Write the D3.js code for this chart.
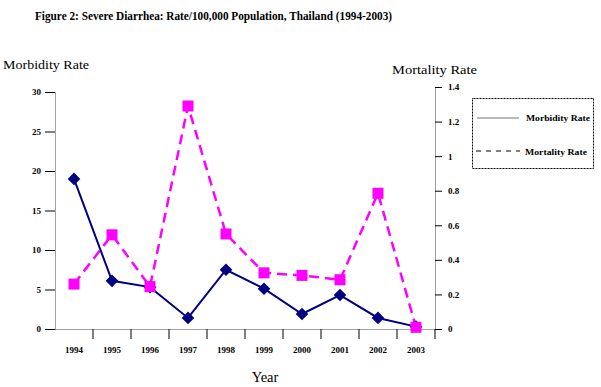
<!DOCTYPE html>
<html><head><meta charset="utf-8">
<script src="https://cdn.jsdelivr.net/npm/d3@7"></script>
<style>body{margin:0;background:#fff}svg{display:block}text{font-family:"Liberation Serif","Times New Roman",serif}</style>
</head><body><svg id="c" width="601" height="387"></svg>
<script>
const years = ["1994","1995","1996","1997","1998","1999","2000","2001","2002","2003"];
const morbidity = [19.0, 6.1, 5.3, 1.4, 7.5, 5.1, 1.9, 4.3, 1.4, 0.3];
const mortality = [0.26, 0.545, 0.245, 1.29, 0.55, 0.325, 0.31, 0.285, 0.785, 0.01];
const leftTicks = [0,5,10,15,20,25,30];
const rightTicks = [0,0.2,0.4,0.6,0.8,1,1.2,1.4];

const svg = d3.select("#c");
const x = d3.scaleBand().domain(years).range([55,435]).padding(0);
const yL = d3.scaleLinear().domain([0,30]).range([329,92]);
const yR = d3.scaleLinear().domain([0,1.4]).range([329,87]);
const cx = d => x(d)+x.bandwidth()/2;

svg.append("text").attr("x",35).attr("y",20).attr("font-size",12.5).attr("font-weight","bold")
  .attr("textLength",357).attr("lengthAdjust","spacingAndGlyphs")
  .text("Figure 2: Severe Diarrhea: Rate/100,000 Population, Thailand (1994-2003)");
svg.append("text").attr("x",3).attr("y",69).attr("font-size",13.5).attr("textLength",86).attr("lengthAdjust","spacingAndGlyphs").text("Morbidity Rate");
svg.append("text").attr("x",392).attr("y",74).attr("font-size",13.5).attr("textLength",85).attr("lengthAdjust","spacingAndGlyphs").text("Mortality Rate");
svg.append("text").attr("x",265).attr("y",382).attr("text-anchor","middle").attr("font-size",14.5).text("Year");

function styleAxis(g){
  g.select(".domain").attr("stroke","#444").attr("stroke-dasharray","1,1");
  g.selectAll(".tick line").attr("stroke","#000");
  g.selectAll(".tick text").attr("font-size",9).attr("font-weight","bold").attr("fill","#000");
}
const gl = svg.append("g").attr("transform","translate(55,0)")
  .call(d3.axisLeft(yL).tickValues(leftTicks).tickSize(10).tickPadding(4).tickSizeOuter(0).tickFormat(d3.format("d")));
styleAxis(gl);
const gr = svg.append("g").attr("transform","translate(435,0)")
  .call(d3.axisRight(yR).tickValues(rightTicks).tickSize(7).tickPadding(6).tickSizeOuter(0).tickFormat(d=>String(d)));
styleAxis(gr);
const gx = svg.append("g").attr("transform","translate(0,329)")
  .call(d3.axisBottom(x).tickSize(0).tickPadding(24).tickSizeOuter(0));
styleAxis(gx);
gx.selectAll(".tick text").attr("dy","0");
// band-boundary ticks
svg.append("g").selectAll("line").data(years.slice(1).concat(["end"])).join("line")
  .attr("x1",(d,i)=> i<9 ? x(d) : 435).attr("x2",(d,i)=> i<9 ? x(d) : 435)
  .attr("y1",329).attr("y2",339).attr("stroke","#000");

const lineM = d3.line().x((d,i)=>cx(years[i])).y(d=>yL(d));
const lineR = d3.line().x((d,i)=>cx(years[i])).y(d=>yR(d));
svg.append("path").attr("d",lineR(mortality)).attr("fill","none").attr("stroke","#ff00ff")
  .attr("stroke-width",2.5).attr("stroke-dasharray","10,6");
svg.append("path").attr("d",lineM(morbidity)).attr("fill","none").attr("stroke","#000080").attr("stroke-width",2);
svg.append("g").selectAll("path").data(morbidity).join("path")
  .attr("d",d3.symbol(d3.symbolSquare,80)()).attr("fill","#000080")
  .attr("transform",(d,i)=>`translate(${cx(years[i])},${yL(d)}) rotate(45)`);
svg.append("g").selectAll("rect").data(mortality).join("rect")
  .attr("x",(d,i)=>cx(years[i])-5.5).attr("y",d=>yR(d)-5.5).attr("width",11).attr("height",11).attr("fill","#ff00ff");

// legend
const lg = svg.append("g");
lg.append("rect").attr("x",472.5).attr("y",98.5).attr("width",121).attr("height",70).attr("fill","none")
  .attr("stroke","#000").attr("stroke-dasharray","1,0.5");
lg.append("line").attr("x1",477).attr("x2",519).attr("y1",118).attr("y2",118).attr("stroke","#777").attr("stroke-width",1.2);
lg.append("line").attr("x1",476).attr("x2",520).attr("y1",151).attr("y2",151).attr("stroke","#000").attr("stroke-dasharray","5,5");
lg.append("text").attr("x",526).attr("y",121).attr("font-size",9).attr("font-weight","bold").attr("textLength",64).attr("lengthAdjust","spacingAndGlyphs").text("Morbidity Rate");
lg.append("text").attr("x",525).attr("y",155).attr("font-size",9).attr("font-weight","bold").attr("textLength",62).attr("lengthAdjust","spacingAndGlyphs").text("Mortality Rate");
</script></body></html>
